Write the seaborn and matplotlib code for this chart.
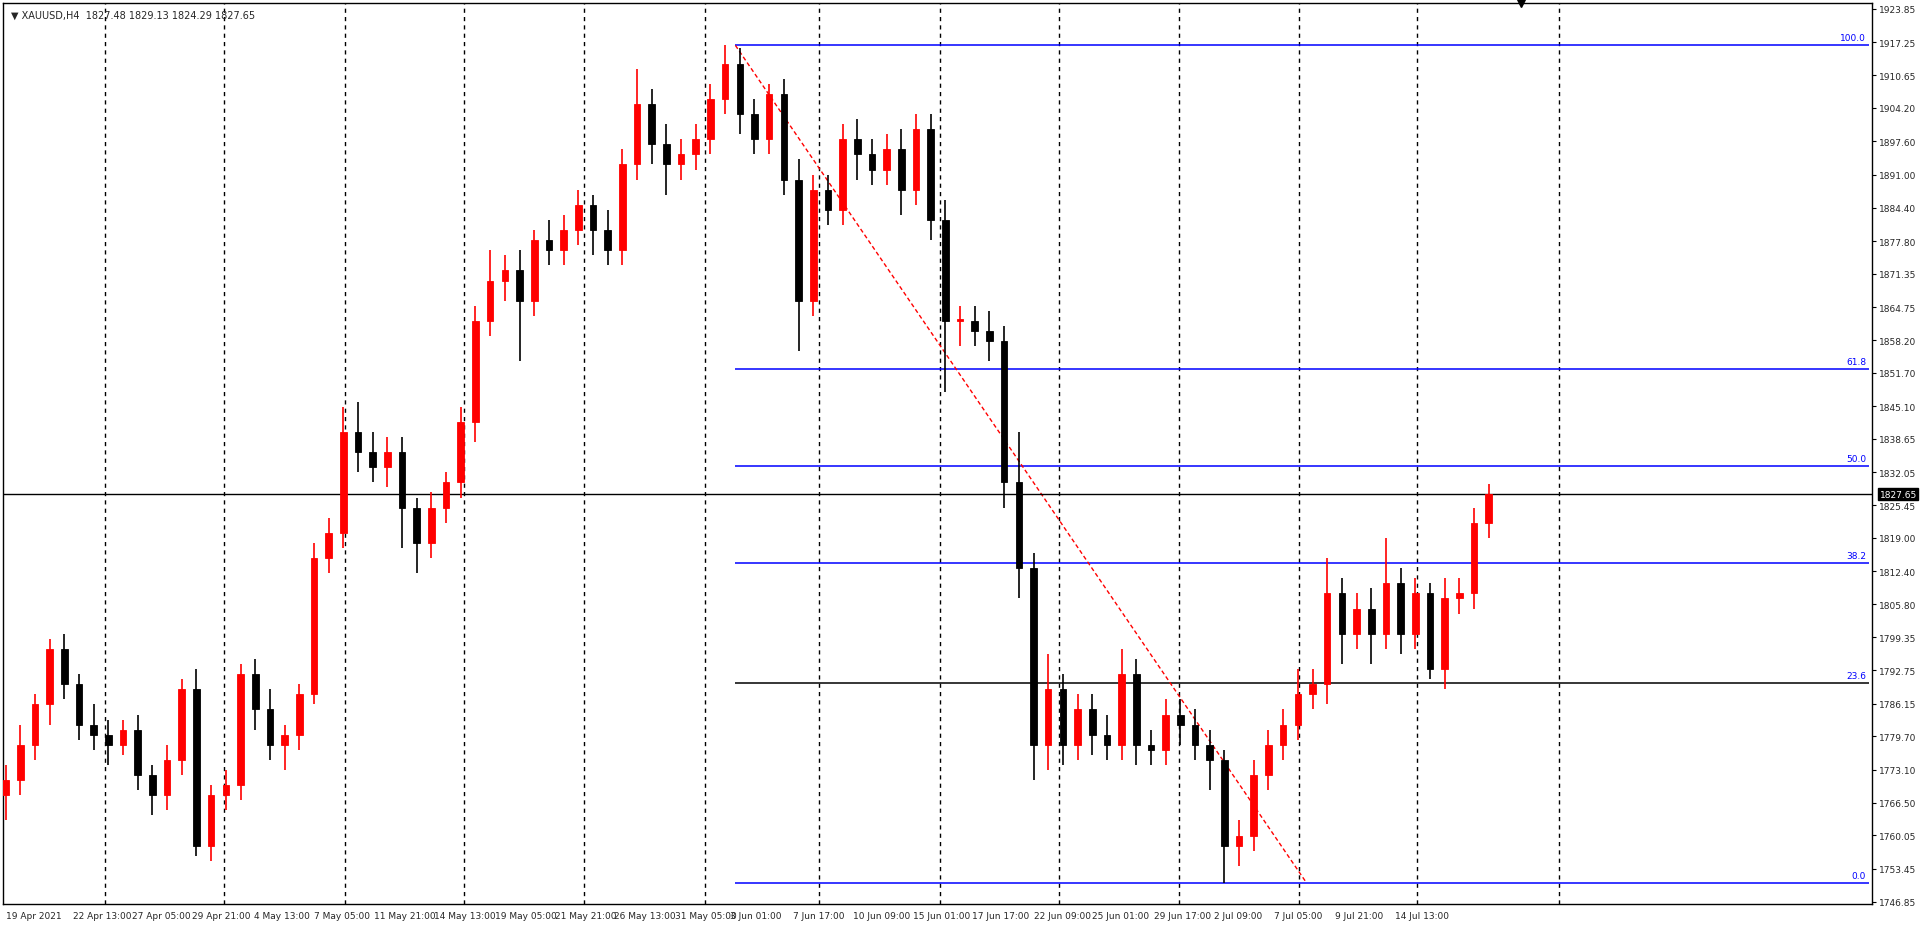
import matplotlib
matplotlib.use("Agg")
import matplotlib.pyplot as plt
import seaborn as sns
import numpy as np

# closes, one per candle (left to right)
closes = [1771, 1778, 1786, 1797, 1790, 1782, 1780, 1778, 1781, 1772,
          1768, 1775, 1789, 1758, 1768, 1770, 1792, 1785, 1778, 1780,
          1788, 1815, 1820, 1840, 1836, 1833, 1836, 1825, 1818, 1825,
          1830, 1842, 1862, 1870, 1872, 1866, 1878, 1876, 1880, 1885,
          1880, 1876, 1893, 1905, 1897, 1893, 1895, 1898, 1906, 1913,
          1903, 1898, 1907, 1890, 1866, 1888, 1884, 1898, 1895, 1892,
          1896, 1888, 1900, 1882, 1862, 1862, 1860, 1858, 1830, 1813,
          1778, 1789, 1778, 1785, 1780, 1778, 1792, 1778, 1777, 1784,
          1782, 1778, 1775, 1758, 1760, 1772, 1778, 1782, 1788, 1790,
          1808, 1800, 1805, 1800, 1810, 1800, 1808, 1793, 1807, 1808,
          1822, 1827.65]
first_open = 1768
wick_up = [3, 4, 2, 2, 3, 2, 4, 3, 2, 3, 2, 3, 2, 4, 2, 3, 2, 3, 4, 2,
           2, 3, 3, 5, 6, 4, 3, 3, 2, 3, 2, 3, 3, 6, 3, 4, 2, 4, 3, 3,
           2, 4, 3, 7, 3, 4, 3, 3, 3, 3.6, 3, 3, 2, 3, 4, 3, 3, 3, 4, 3,
           3, 4, 3, 3, 4, 3, 3, 4, 3, 10, 3, 7, 3, 3, 3, 4, 5, 3, 3, 3,
           3, 3, 3, 2, 3, 3, 3, 3, 5, 3, 7, 3, 3, 4, 9, 3, 3, 2, 4, 3,
           3, 2]
wick_dn = [5, 3, 3, 4, 3, 3, 3, 4, 2, 3, 4, 3, 3, 2, 3, 3, 3, 4, 3, 5,
           3, 2, 3, 3, 4, 3, 4, 8, 6, 3, 3, 3, 4, 3, 4, 12, 3, 3, 3, 3,
           5, 3, 3, 3, 4, 6, 3, 3, 3, 3, 4, 3, 3, 3, 10, 3, 3, 3, 5, 3,
           3, 5, 3, 4, 14, 5, 3, 4, 5, 6, 7, 5, 4, 3, 4, 3, 3, 4, 3, 3,
           4, 3, 6, 7.4, 4, 3, 3, 3, 3, 3, 4, 6, 3, 6, 3, 4, 3, 2, 4, 3,
           3, 3]

fib_levels = [100.0, 61.8, 50.0, 38.2, 23.6, 0.0]
fib_prices = [1916.6, 1852.5, 1833.3, 1814.0, 1790.2, 1750.6]
fib_start, fib_end = 49.7, 88.6

price_ticks = [1923.85, 1917.25, 1910.65, 1904.20, 1897.60, 1891.00, 1884.40,
               1877.80, 1871.35, 1864.75, 1858.20, 1851.70, 1845.10, 1838.65,
               1832.05, 1825.45, 1819.00, 1812.40, 1805.80, 1799.35, 1792.75,
               1786.15, 1779.70, 1773.10, 1766.50, 1760.05, 1753.45, 1746.85]
date_labels = ["19 Apr 2021", "22 Apr 13:00", "27 Apr 05:00", "29 Apr 21:00",
               "4 May 13:00", "7 May 05:00", "11 May 21:00", "14 May 13:00",
               "19 May 05:00", "21 May 21:00", "26 May 13:00", "31 May 05:00",
               "3 Jun 01:00", "7 Jun 17:00", "10 Jun 09:00", "15 Jun 01:00",
               "17 Jun 17:00", "22 Jun 09:00", "25 Jun 01:00", "29 Jun 17:00",
               "2 Jul 09:00", "7 Jul 05:00", "9 Jul 21:00", "14 Jul 13:00"]
date_pos = [0, 4.6, 8.6, 12.7, 16.9, 21.0, 25.1, 29.2, 33.3, 37.4, 41.4, 45.6,
            49.3, 53.6, 57.7, 61.8, 65.8, 70.0, 74.0, 78.2, 82.3, 86.4, 90.5, 94.6]
grid_pos = [6.75, 14.9, 23.1, 31.25, 39.4, 47.6, 55.4, 63.6, 71.75, 79.9, 88.1, 96.1, 105.8]

sns.set_style("white")
plt.rcParams['font.family'] = ['DejaVu Sans']

fig = plt.figure(figsize=(19.2, 9.28), dpi=100)
ax = fig.add_axes([0.0016, 0.0248, 0.9734, 0.9709])

opens = [first_open] + closes[:-1]
n = len(closes)
x = np.arange(n)
for i in range(n):
    o, c = opens[i], closes[i]
    hi = max(o, c) + wick_up[i]
    lo = min(o, c) - wick_dn[i]
    col = "#ff0000" if c >= o else "#000000"
    ax.vlines(x[i], lo, hi, color=col, lw=1.2, zorder=3)
    ax.bar(x[i], max(abs(c - o), 0.3), bottom=min(o, c), width=0.45,
           color=col, edgecolor=col, lw=0.6, zorder=4)

for g in grid_pos:
    ax.axvline(g, color="black", ls=(0, (3, 3)), lw=1, zorder=1)

for lvl, p in zip(fib_levels, fib_prices):
    c = "#000000" if lvl == 23.6 else "#0000ff"
    ax.hlines(p, fib_start, 126.9, color=c, lw=1.1, zorder=2)
    ax.text(126.7, p + 0.6, f"{lvl:.1f}", color="#0000ff", fontsize=6.5,
            ha="right", va="bottom")
ax.plot([fib_start, fib_end], [fib_prices[0], fib_prices[-1]], color="#ff0000",
        ls=(0, (3, 2)), lw=1, zorder=2)

last = closes[-1]
ax.axhline(last, color="#000000", lw=1, zorder=2)

ax.set_xlim(-0.17, 127.1)
ax.set_ylim(1746.45, 1925.0)
ax.yaxis.tick_right()
ax.set_yticks(price_ticks)
ax.set_yticklabels([f"{t:.2f}" for t in price_ticks], fontsize=6.5)
ax.set_xticks(date_pos)
ax.set_xticklabels(date_labels, fontsize=6.5, ha="left")
ax.tick_params(axis="both", length=3, color="black", pad=2)
for s in ax.spines.values():
    s.set_color("black")
    s.set_linewidth(1)

ax.text(1.0 + 0.004, last, f"{last:.2f}", transform=ax.get_yaxis_transform(),
        fontsize=6.5, color="white", va="center", ha="left",
        bbox=dict(facecolor="black", edgecolor="black", pad=1.2), zorder=10)
ax.text(0.004, 0.993, "\u25bc XAUUSD,H4  1827.48 1829.13 1824.29 1827.65",
        transform=ax.transAxes, fontsize=7, va="top", ha="left")
ax.plot([0.812], [1.0], marker="v", color="black", markersize=6,
        transform=ax.transAxes, clip_on=False)

fig.savefig("out.png", dpi=100)
